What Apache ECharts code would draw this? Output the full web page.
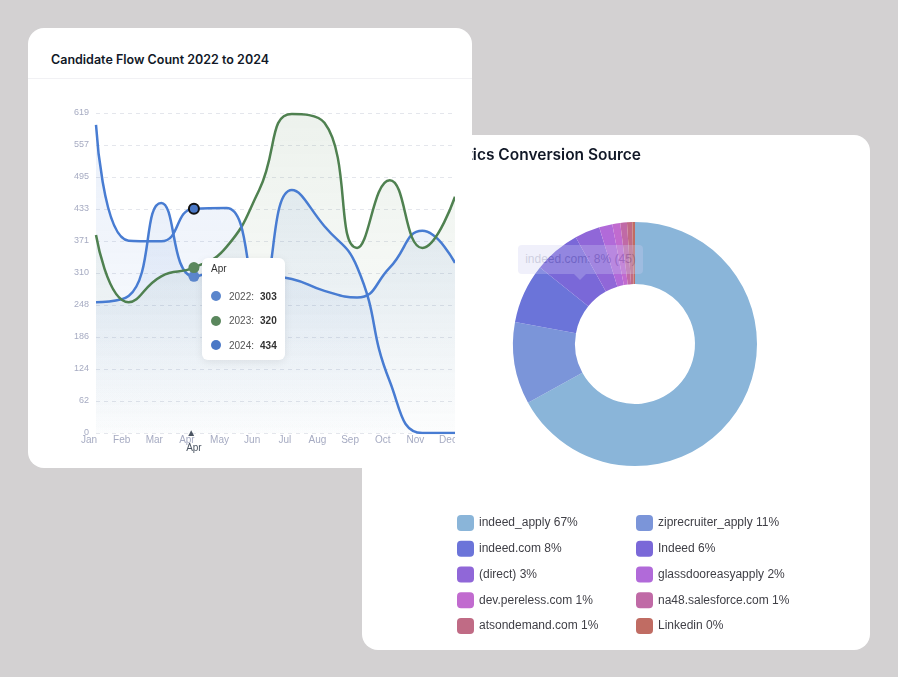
<!DOCTYPE html>
<html>
<head>
<meta charset="utf-8">
<script src="https://cdn.jsdelivr.net/npm/echarts@6/dist/echarts.min.js"></script>
<style>
html,body{margin:0;padding:0;width:898px;height:677px;overflow:hidden;background:#d3d1d2;}
.card{position:absolute;background:#fff;border-radius:16px;overflow:hidden;}
#cardL{left:28px;top:28px;width:444px;height:440px;z-index:2;}
#cardR{left:362px;top:135px;width:508px;height:515px;z-index:1;}
#titleL{position:absolute;left:23px;top:24px;line-height:16px;font-family:Inter,'Noto Sans',sans-serif;font-size:12.5px;font-weight:600;color:#111827;white-space:nowrap;}
#sepL{position:absolute;left:0;right:0;top:50px;height:1px;background:#f1f1f4;}
#chartL{position:absolute;left:0;top:52px;width:427px;height:388px;}
#titleR{position:absolute;right:229px;top:11px;line-height:18px;font-family:Inter,'Noto Sans',sans-serif;font-size:15.5px;font-weight:600;color:#111827;white-space:nowrap;z-index:3;}
#chartR{position:absolute;left:0;top:0;width:508px;height:515px;}
#ghost{position:absolute;left:156px;top:110px;width:125px;height:29px;border-radius:4px;background:rgb(205,205,240);color:#5a5f9a;opacity:0.3;font-family:'Liberation Sans',Arial,sans-serif;font-size:12px;line-height:29px;text-align:center;white-space:nowrap;z-index:4;}
#ghost:after{content:'';position:absolute;left:56px;top:29px;border-left:6px solid transparent;border-right:6px solid transparent;border-top:6px solid rgb(205,205,240);}
</style>
</head>
<body>
<div class="card" id="cardR">
  <div id="titleR">Analytics Conversion Source</div>
  <div id="chartR"></div>
  <div id="ghost"></div>
</div>
<div class="card" id="cardL">
  <div id="titleL">Candidate Flow Count 2022 to 2024</div>
  <div id="sepL"></div>
  <div id="chartL"></div>
</div>
<script>
// ---------- data: line chart ----------
const months = ['Jan','Feb','Mar','Apr','May','Jun','Jul','Aug','Sep','Oct','Nov','Dec'];
const flow2022 = [253, 265, 445, 303, 315, 305, 298, 275, 262, 320, 391, 329];
const flow2023 = [383, 253, 303, 320, 360, 470, 617, 600, 358, 489, 358, 457];
const flow2024 = [596, 372, 371, 434, 435, 270, 470, 400, 321, 100, 0, 0];
const yMax = 619;
const yTickCount = 10;
const tooltipMonthIndex = 3;

// ---------- data: donut chart ----------
const sources = ['indeed_apply','ziprecruiter_apply','indeed.com','Indeed','(direct)','glassdooreasyapply','dev.pereless.com','na48.salesforce.com','atsondemand.com','Linkedin'];
const sourceCounts = [382, 62, 45, 35, 19, 10, 6, 5, 4, 2];
const sourceColors = ['#8ab5d9','#7b95d9','#6b74d9','#7a68d8','#9067d8','#b16ad9','#c16bcf','#c06aa6','#c06b85','#c06c63'];
const ghostIndex = 2;

const blue = '#4271bf', green = '#487649';
const axisFont = "'Liberation Sans', Arial, sans-serif";
const axisColor = '#a6abc2';

function grad(r,g,b,a0,a1){
  return new echarts.graphic.LinearGradient(0,0,0,1,[{offset:0,color:`rgba(${r},${g},${b},${a0})`},{offset:1,color:`rgba(${r},${g},${b},${a1})`}]);
}

const chartL = echarts.init(document.getElementById('chartL'));
chartL.setOption({
  animation:false,
  grid:{left:68,right:0,top:33,bottom:35,outerBoundsMode:'none',containLabel:false},
  tooltip:{
    trigger:'axis', triggerOn:'none', alwaysShowContent:true, transitionDuration:0,
    position:[174,178], padding:[5,8,2,9], backgroundColor:'#fff', borderWidth:0, borderRadius:6,
    extraCssText:'box-shadow:0 2px 8px rgba(0,0,0,0.08);',
    textStyle:{fontFamily:axisFont,fontSize:10,color:'#333'},
    axisPointer:{
      type:'line', lineStyle:{color:'rgba(0,0,0,0)'},
      label:{
        show:true, backgroundColor:'rgba(0,0,0,0)', borderWidth:0, shadowBlur:0, margin:-7.5, padding:0,
        fontSize:10, lineHeight:15, color:'#4b5563', fontFamily:axisFont,
        formatter:p=>{const v = typeof p.value==='number'?months[p.value]:p.value; return '▲\n'+v;}
      }
    },
    formatter:params=>{
      let h = `<div style="font-size:10px;line-height:12px;color:#333;margin-bottom:9px;">${params[0].axisValue}</div>`;
      params.forEach(p=>{
        h += `<div style="display:flex;align-items:center;height:24.5px;font-size:10px;"><span style="display:inline-block;width:10px;height:10px;border-radius:5px;background:${p.color};margin-right:8px"></span><span style="color:#555">${p.seriesName}:</span><b style="margin-left:6px;color:#333">${p.value}</b></div>`;
      });
      return h;
    }
  },
  xAxis:{
    type:'category', data:months, boundaryGap:false,
    axisLine:{show:false}, axisTick:{show:false},
    axisLabel:{color:axisColor,fontSize:10,margin:2,padding:[0,14,0,0],fontFamily:axisFont}
  },
  yAxis:{
    type:'value', min:0, max:yMax, interval:yMax/yTickCount,
    axisLine:{show:false}, axisTick:{show:false},
    axisLabel:{formatter:v=>Math.round(v),color:axisColor,fontSize:9,margin:7,fontFamily:axisFont},
    splitLine:{lineStyle:{type:[4,4],color:'#e4e6ec'}}
  },
  series:[
    {name:'2022',type:'line',data:flow2022,smooth:true,showSymbol:false,symbol:'circle',symbolSize:11,
     lineStyle:{width:2.5,color:blue},itemStyle:{color:'#5b86cc'},
     areaStyle:{color:grad(66,113,191,0.17,0.01)},
     emphasis:{scale:false,lineStyle:{width:2.5},itemStyle:{color:'#5b86cc'}}},
    {name:'2023',type:'line',data:flow2023,smooth:true,showSymbol:false,symbol:'circle',symbolSize:11,
     lineStyle:{width:2.5,color:green},itemStyle:{color:'#5a875d'},
     areaStyle:{color:grad(72,118,73,0.15,0.01)},
     emphasis:{scale:false,lineStyle:{width:2.5},itemStyle:{color:'#5a875d'}}},
    {name:'2024',type:'line',data:flow2024,smooth:true,showSymbol:false,symbol:'circle',symbolSize:10,
     lineStyle:{width:2.5,color:blue},itemStyle:{color:'#4a78c6',borderColor:'#111',borderWidth:2},
     areaStyle:{color:grad(66,113,191,0.17,0.01)},
     emphasis:{scale:false,lineStyle:{width:2.5},itemStyle:{color:'#4a78c6',borderColor:'#111',borderWidth:2}}}
  ]
});
chartL.dispatchAction({type:'showTip',seriesIndex:0,dataIndex:tooltipMonthIndex});

// ---------- donut ----------
const total = sourceCounts.reduce((a,b)=>a+b,0);
const pct = i => Math.round(sourceCounts[i]/total*100);
const legendBase = {
  orient:'vertical', top:380, padding:0, itemWidth:17, itemHeight:16, itemGap:9.75, icon:'roundRect',
  selectedMode:false,
  textStyle:{fontSize:12,color:'#3f3f46',fontFamily:axisFont},
  formatter:name=>name+' '+pct(sources.indexOf(name))+'%'
};
const chartR = echarts.init(document.getElementById('chartR'));
chartR.setOption({
  animation:false,
  legend:[
    Object.assign({},legendBase,{left:95,data:sources.filter((_,i)=>i%2===0)}),
    Object.assign({},legendBase,{left:274,data:sources.filter((_,i)=>i%2===1)})
  ],
  series:[{
    type:'pie', center:[273,209], radius:[60,122], startAngle:90, clockwise:true,
    avoidLabelOverlap:false, label:{show:false}, labelLine:{show:false},
    emphasis:{disabled:true}, silent:true,
    data:sources.map((n,i)=>({name:n,value:sourceCounts[i],itemStyle:{color:sourceColors[i]}}))
  }]
});
document.getElementById('ghost').textContent = `${sources[ghostIndex]}: ${pct(ghostIndex)}% (${sourceCounts[ghostIndex]})`;
</script>
</body>
</html>
